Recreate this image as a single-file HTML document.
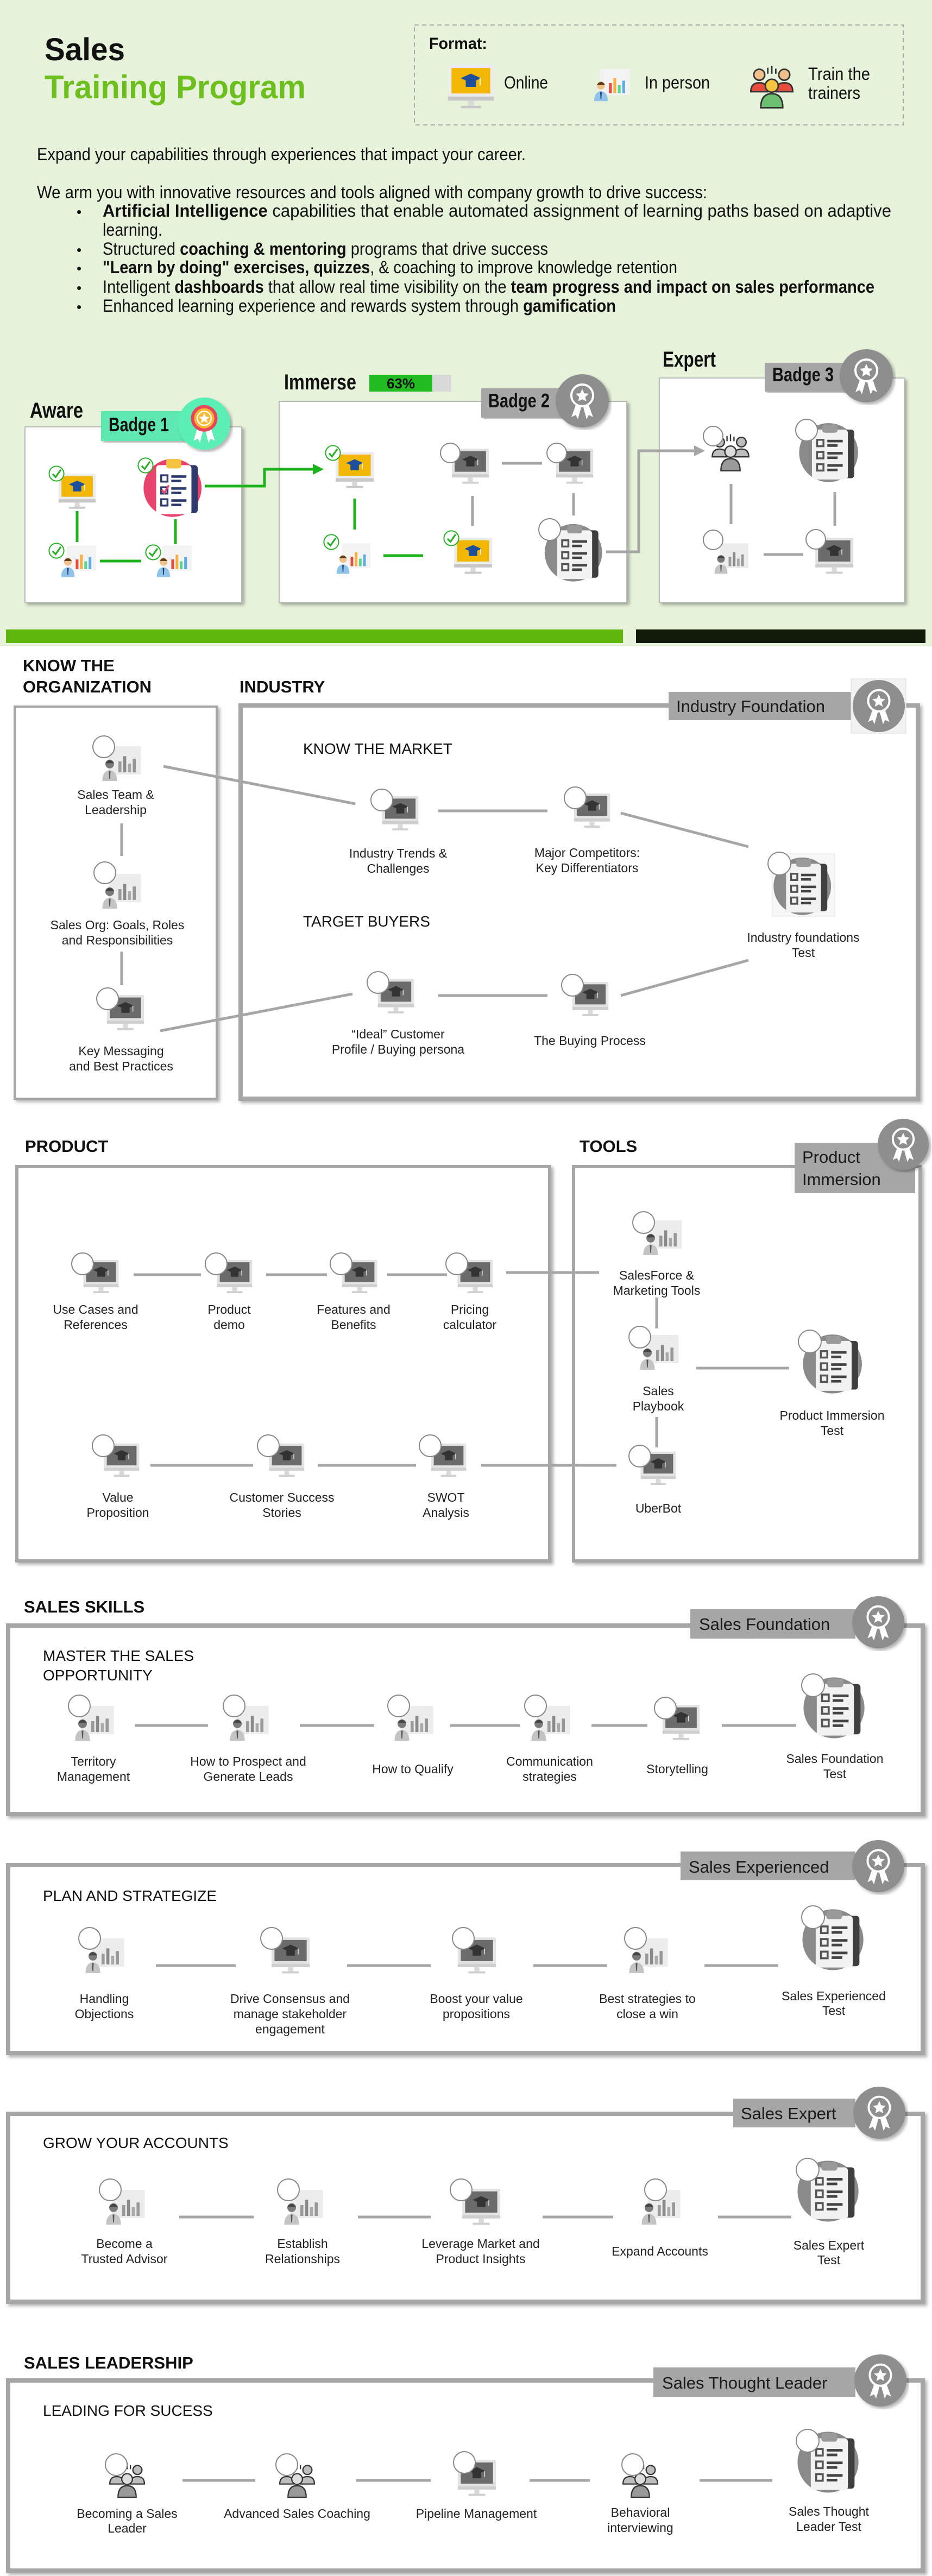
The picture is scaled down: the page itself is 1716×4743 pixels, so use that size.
<!DOCTYPE html>
<html><head><meta charset="utf-8"><style>html,body{margin:0;padding:0;background:#fff}svg{display:block}</style></head>
<body>
<svg xmlns="http://www.w3.org/2000/svg" xmlns:xlink="http://www.w3.org/1999/xlink" width="1716" height="4743" viewBox="0 0 1716 4743" font-family="Liberation Sans, sans-serif">
<defs>
<filter id="sh" x="-5%" y="-5%" width="110%" height="110%"><feDropShadow dx="4" dy="4" stdDeviation="3" flood-color="#000" flood-opacity="0.3"/></filter>
<symbol id="mon" viewBox="0 0 100 100"><rect x="5" y="8" width="90" height="62" rx="3" fill="#e3e3e3"/><rect x="12" y="14" width="76" height="50" fill="#6b6b6b"/><path d="M30 34 L50 25 L70 34 L50 43 Z" fill="#333"/><rect x="40" y="38" width="20" height="13" fill="#333"/><path d="M68 34 V48" stroke="#ddd" stroke-width="2"/><rect x="5" y="70" width="90" height="8" fill="#cfcfcf"/><rect x="44" y="78" width="12" height="10" fill="#d9d9d9"/><rect x="30" y="88" width="40" height="5" rx="2" fill="#cfcfcf"/></symbol>
<symbol id="monc" viewBox="0 0 100 100"><rect x="5" y="8" width="90" height="62" rx="3" fill="#ececec"/><rect x="12" y="14" width="76" height="50" fill="#f2b705"/><path d="M30 34 L50 25 L70 34 L50 43 Z" fill="#1e4f9a"/><rect x="40" y="38" width="20" height="13" fill="#1e4f9a"/><path d="M68 34 V48" stroke="#fff" stroke-width="2"/><rect x="5" y="70" width="90" height="8" fill="#c8c8c8"/><rect x="44" y="78" width="12" height="10" fill="#d9d9d9"/><rect x="30" y="88" width="40" height="5" rx="2" fill="#c8c8c8"/></symbol>
<symbol id="pc" viewBox="0 0 100 100"><rect x="22" y="15" width="75" height="65" fill="#ececec"/><rect x="45" y="50" width="7" height="25" fill="#9a9a9a"/><rect x="56" y="38" width="7" height="37" fill="#8a8a8a"/><rect x="67" y="55" width="7" height="20" fill="#aaa"/><rect x="78" y="44" width="7" height="31" fill="#999"/><circle cx="25" cy="56" r="10" fill="#7a7a7a"/><path d="M15 54 Q25 40 35 54 Z" fill="#444"/><path d="M8 95 Q8 72 25 70 Q42 72 42 95 Z" fill="#c4c4c4"/><path d="M23 72 L27 72 L26 90 L24 90Z" fill="#555"/></symbol>
<symbol id="pcc" viewBox="0 0 100 100"><rect x="22" y="15" width="75" height="65" fill="#f3f3f3"/><rect x="45" y="50" width="7" height="25" fill="#e74c3c"/><rect x="56" y="38" width="7" height="37" fill="#f5b041"/><rect x="67" y="55" width="7" height="20" fill="#58d68d"/><rect x="78" y="44" width="7" height="31" fill="#5dade2"/><circle cx="25" cy="56" r="10" fill="#f0c08a"/><path d="M15 54 Q25 40 35 54 Z" fill="#5a3a1a"/><path d="M8 95 Q8 72 25 70 Q42 72 42 95 Z" fill="#8fc3ea"/><path d="M23 72 L27 72 L26 90 L24 90Z" fill="#1e3a6a"/></symbol>
<symbol id="clip" viewBox="0 0 100 100"><circle cx="48" cy="52" r="46" fill="#8a8a8a"/><rect x="58" y="16" width="30" height="76" rx="5" fill="#3f3f3f"/><rect x="22" y="16" width="56" height="78" rx="5" fill="#f2f2f2"/><rect x="38" y="8" width="24" height="13" rx="4" fill="#9a9a9a"/><g fill="none" stroke="#555" stroke-width="3"><rect x="30" y="32" width="10" height="10"/><rect x="30" y="51" width="10" height="10"/><rect x="30" y="70" width="10" height="10"/></g><g stroke="#444" stroke-width="4"><path d="M46 34H70M46 41H62M46 53H70M46 60H62M46 72H70M46 79H62"/></g></symbol>
<symbol id="clipc" viewBox="0 0 100 100"><circle cx="48" cy="52" r="46" fill="#e8436c"/><rect x="58" y="16" width="30" height="76" rx="5" fill="#2e3a6e"/><rect x="22" y="16" width="56" height="78" rx="5" fill="#fff"/><rect x="38" y="6" width="24" height="15" rx="4" fill="#f5c542"/><g fill="none" stroke="#2e3a6e" stroke-width="3"><rect x="30" y="32" width="10" height="10"/><rect x="30" y="51" width="10" height="10"/><rect x="30" y="70" width="10" height="10"/></g><path d="M31 55 L35 60 L42 48" stroke="#e8436c" stroke-width="3" fill="none"/><g stroke="#2e3a6e" stroke-width="4"><path d="M46 34H70M46 41H62M46 53H70M46 60H62M46 72H70M46 79H62"/></g></symbol>
<symbol id="team" viewBox="0 0 100 100"><g stroke="#333" stroke-width="3" fill="#bdbdbd"><circle cx="25" cy="30" r="11"/><path d="M8 64 Q8 46 25 46 Q42 46 42 64Z"/><circle cx="75" cy="30" r="11"/><path d="M58 64 Q58 46 75 46 Q92 46 92 64Z"/><path d="M28 96 Q28 68 50 68 Q72 68 72 96Z" fill="#9a9a9a"/><circle cx="50" cy="52" r="13" fill="#ddd"/></g><path d="M42 16V28M50 12V28M58 18V28" stroke="#333" stroke-width="3"/></symbol>
<symbol id="teamc" viewBox="0 0 100 100"><g stroke="#333" stroke-width="3"><circle cx="25" cy="30" r="11" fill="#f0c08a"/><path d="M8 64 Q8 46 25 46 Q42 46 42 64Z" fill="#e74c3c"/><circle cx="75" cy="30" r="11" fill="#f0c08a"/><path d="M58 64 Q58 46 75 46 Q92 46 92 64Z" fill="#e74c3c"/><path d="M28 96 Q28 68 50 68 Q72 68 72 96Z" fill="#6cc070"/><circle cx="50" cy="52" r="13" fill="#f5c542"/></g><path d="M42 16V28M50 12V28M58 18V28" stroke="#333" stroke-width="3"/></symbol>
<symbol id="bdg" viewBox="0 0 100 100"><circle cx="50" cy="50" r="49" fill="#8e8e8e"/><circle cx="50" cy="40" r="20" fill="none" stroke="#fff" stroke-width="4"/><polygon points="50,28 53.5,36 62,37 55.5,43 57.5,51 50,47 42.5,51 44.5,43 38,37 46.5,36" fill="#fff"/><path d="M38 58 L30 80 L38 76 L42 84 L48 62Z M62 58 L70 80 L62 76 L58 84 L52 62Z" fill="#fff"/></symbol>
<symbol id="bdg1" viewBox="0 0 100 100"><circle cx="50" cy="50" r="49" fill="#5cefb5"/><path d="M38 56 L30 82 L38 78 L42 86 L48 62Z M62 56 L70 82 L62 78 L58 86 L52 62Z" fill="#fff"/><circle cx="50" cy="40" r="25" fill="#e8455a"/><circle cx="50" cy="40" r="19" fill="#f7b731"/><circle cx="50" cy="40" r="13" fill="none" stroke="#fff" stroke-width="2.5"/><polygon points="50,30 53,37 60,37.5 54.5,42 56.5,49 50,45 43.5,49 45.5,42 40,37.5 47,37" fill="#fff"/></symbol>
<symbol id="chk" viewBox="0 0 40 40"><circle cx="20" cy="20" r="17" fill="#fff" stroke="#2bb02b" stroke-width="2.5"/><path d="M11 21 L18 28 L30 11" fill="none" stroke="#2bb02b" stroke-width="4"/></symbol>
</defs>

<!-- TOP -->
<rect x="0" y="0" width="1716" height="1190" fill="#e7f2da"/>
<text x="82" y="111" font-size="58" font-weight="bold" fill="#111" textLength="148" lengthAdjust="spacingAndGlyphs">Sales</text>
<text x="82" y="181" font-size="60" font-weight="bold" fill="#6cbf1c" textLength="481" lengthAdjust="spacingAndGlyphs">Training Program</text>
<rect x="763" y="46" width="900" height="184" fill="none" stroke="#aaa" stroke-width="2" stroke-dasharray="8 6"/>
<text x="790" y="90" font-size="30" font-weight="bold" fill="#111" textLength="107" lengthAdjust="spacingAndGlyphs">Format:</text>
<use href="#monc" x="820" y="112" width="94" height="94"/>
<text x="928" y="163" font-size="32" fill="#111" textLength="81" lengthAdjust="spacingAndGlyphs">Online</text>
<use href="#pcc" x="1080" y="116" width="90" height="74"/>
<text x="1187" y="163" font-size="32" fill="#111" textLength="120" lengthAdjust="spacingAndGlyphs">In person</text>
<use href="#teamc" x="1374" y="110" width="94" height="92"/>
<text x="1488" y="147" font-size="32" fill="#111" textLength="114" lengthAdjust="spacingAndGlyphs">Train the</text>
<text x="1488" y="182" font-size="32" fill="#111" textLength="96" lengthAdjust="spacingAndGlyphs">trainers</text>

<g font-size="32" fill="#111">
<text x="68" y="295" textLength="900" lengthAdjust="spacingAndGlyphs">Expand your capabilities through experiences that impact your career.</text>
<text x="68" y="365" textLength="1234" lengthAdjust="spacingAndGlyphs">We arm you with innovative  resources and tools aligned with company growth to drive success:</text>
<g font-size="26"><text x="141" y="399">•</text><text x="141" y="469">•</text><text x="141" y="503">•</text><text x="141" y="539">•</text><text x="141" y="574">•</text></g>
<text x="189" y="399" textLength="1452" lengthAdjust="spacingAndGlyphs"><tspan font-weight="bold">Artificial Intelligence</tspan> capabilities that enable automated assignment of learning paths based on adaptive</text>
<text x="189" y="434" textLength="110" lengthAdjust="spacingAndGlyphs">learning.</text>
<text x="189" y="469" textLength="820" lengthAdjust="spacingAndGlyphs">Structured <tspan font-weight="bold">coaching &amp; mentoring</tspan> programs that drive success</text>
<text x="189" y="503" textLength="1058" lengthAdjust="spacingAndGlyphs"><tspan font-weight="bold">"Learn by doing" exercises, quizzes</tspan>, &amp; coaching to improve knowledge retention</text>
<text x="189" y="539" textLength="1421" lengthAdjust="spacingAndGlyphs">Intelligent <tspan font-weight="bold">dashboards</tspan> that allow real time visibility on the <tspan font-weight="bold">team progress and impact on sales performance</tspan></text>
<text x="189" y="574" textLength="945" lengthAdjust="spacingAndGlyphs">Enhanced learning experience and rewards system through <tspan font-weight="bold">gamification</tspan></text>
</g>

<!-- Journey -->
<g font-weight="bold" font-size="40" fill="#111">
<text x="55" y="769" textLength="98" lengthAdjust="spacingAndGlyphs">Aware</text>
<text x="523" y="717" textLength="133" lengthAdjust="spacingAndGlyphs">Immerse</text>
<text x="1220" y="675" textLength="98" lengthAdjust="spacingAndGlyphs">Expert</text>
</g>
<rect x="46" y="786" width="399" height="323" fill="#fff" stroke="#bbb" stroke-width="2" filter="url(#sh)"/>
<rect x="514" y="739" width="640" height="370" fill="#fff" stroke="#bbb" stroke-width="2" filter="url(#sh)"/>
<rect x="1214" y="696" width="451" height="413" fill="#fff" stroke="#bbb" stroke-width="2" filter="url(#sh)"/>
<rect x="680" y="690" width="151" height="31" fill="#d9d9d9"/><rect x="680" y="690" width="116" height="31" fill="#22bb22"/>
<text x="738" y="715" font-size="26" font-weight="bold" fill="#111" text-anchor="middle">63%</text>
<rect x="186" y="757" width="175" height="55" fill="#5ee8b0" filter="url(#sh)"/>
<text x="200" y="794" font-size="36" font-weight="bold" fill="#111" textLength="111" lengthAdjust="spacingAndGlyphs">Badge 1</text>
<use href="#bdg1" x="327" y="731" width="98" height="98" filter="url(#sh)"/>
<rect x="886" y="715" width="164" height="54" fill="#a6a6a6" filter="url(#sh)"/>
<text x="899" y="750" font-size="36" font-weight="bold" fill="#111" textLength="113" lengthAdjust="spacingAndGlyphs">Badge 2</text>
<use href="#bdg" x="1022" y="688" width="100" height="100" filter="url(#sh)"/>
<rect x="1408" y="668" width="167" height="53" fill="#a6a6a6" filter="url(#sh)"/>
<text x="1422" y="702" font-size="36" font-weight="bold" fill="#111" textLength="113" lengthAdjust="spacingAndGlyphs">Badge 3</text>
<use href="#bdg" x="1545" y="642" width="100" height="100" filter="url(#sh)"/>

<!-- aware contents -->
<g stroke="#1db31d" stroke-width="5" fill="none">
<path d="M142 941V998M323 956V1002M184 1033H260"/>
<path d="M377 895H487V864H580"/>
<path d="M653 918V975M706 1023H779"/>
</g>
<polygon points="596,864 576,854 576,874" fill="#1db31d"/>
<use href="#monc" x="104" y="866" width="76" height="76"/>
<use href="#clipc" x="262" y="838" width="116" height="116"/>
<use href="#pcc" x="104" y="994" width="78" height="72"/>
<use href="#pcc" x="280" y="994" width="78" height="72"/>
<use href="#chk" x="88" y="856" width="32" height="32"/>
<use href="#chk" x="252" y="841" width="32" height="32"/>
<use href="#chk" x="88" y="998" width="32" height="32"/>
<use href="#chk" x="266" y="1001" width="32" height="32"/>
<!-- immerse -->
<g stroke="#a6a6a6" stroke-width="5" fill="none">
<path d="M924 853H998M870 913V968M1056 908V949"/>
<path d="M1116 1016H1176V830H1282"/>
<path d="M1346 891V965M1537 906V968M1406 1021H1479"/>
</g>
<polygon points="1298,830 1278,820 1278,840" fill="#a6a6a6"/>
<use href="#monc" x="614" y="826" width="78" height="78"/>
<use href="#mon" x="828" y="820" width="76" height="76"/>
<use href="#mon" x="1020" y="820" width="76" height="76"/>
<use href="#pcc" x="610" y="990" width="78" height="70"/>
<use href="#monc" x="832" y="984" width="78" height="78"/>
<use href="#clip" x="998" y="958" width="120" height="115"/>
<use href="#chk" x="597" y="818" width="32" height="32"/>
<use href="#chk" x="594" y="982" width="32" height="32"/>
<use href="#chk" x="815" y="975" width="32" height="32"/>
<g fill="#fff" stroke="#888" stroke-width="2"><circle cx="829" cy="834" r="18"/><circle cx="1025" cy="834" r="18"/><circle cx="1012" cy="975" r="20"/></g>
<!-- expert -->
<use href="#team" x="1305" y="790" width="80" height="80"/>
<use href="#clip" x="1468" y="772" width="120" height="118"/>
<use href="#pc" x="1305" y="990" width="80" height="70"/>
<use href="#mon" x="1497" y="984" width="78" height="78"/>
<g fill="#fff" stroke="#888" stroke-width="2"><circle cx="1313" cy="803" r="18"/><circle cx="1485" cy="792" r="20"/><circle cx="1313" cy="994" r="18"/><circle cx="1502" cy="993" r="18"/></g>

<rect x="11" y="1159" width="1136" height="25" fill="#5fb70c"/>
<rect x="1171" y="1159" width="533" height="25" fill="#111a07"/>

<!-- ORG / INDUSTRY -->
<g font-weight="bold" font-size="31" fill="#111">
<text x="42" y="1236">KNOW THE</text><text x="42" y="1275">ORGANIZATION</text>
<text x="441" y="1275">INDUSTRY</text>
<text x="46" y="2121">PRODUCT</text><text x="1067" y="2121">TOOLS</text>
<text x="44" y="2969">SALES SKILLS</text>
<text x="44" y="4361">SALES LEADERSHIP</text>
</g>
<rect x="27" y="1301" width="372" height="722" fill="#fff" stroke="#a6a6a6" stroke-width="4" filter="url(#sh)"/>
<rect x="443" y="1299" width="1247" height="724" fill="#fff" stroke="#a6a6a6" stroke-width="8" filter="url(#sh)"/>
<rect x="1231" y="1274" width="336" height="52" fill="#a6a6a6"/>
<text x="1245" y="1311" font-size="31" fill="#1a1a1a">Industry Foundation</text>
<rect x="1567" y="1250" width="101" height="100" fill="#f2f2f2" stroke="#ddd"/>
<use href="#bdg" x="1569" y="1251" width="98" height="98"/>

<g stroke="#a6a6a6" stroke-width="5" fill="none">
<path d="M224 1516V1576M224 1752V1814"/>
<path d="M301 1411L654 1480M295 1898L649 1830"/>
<path d="M807 1493H1008M1143 1497L1378 1559"/>
<path d="M807 1833H1008M1143 1833L1378 1768"/>
</g>
<use href="#pc" x="180" y="1362" width="84" height="80"/>
<use href="#pc" x="180" y="1597" width="84" height="80"/>
<use href="#mon" x="193" y="1826" width="76" height="76"/>
<use href="#mon" x="700" y="1460" width="74" height="74"/>
<use href="#mon" x="1053" y="1455" width="74" height="74"/>
<rect x="1422" y="1572" width="115" height="115" fill="#f7f7f7" stroke="#e5e5e5"/>
<use href="#clip" x="1422" y="1572" width="115" height="115"/>
<use href="#mon" x="692" y="1797" width="74" height="74"/>
<use href="#mon" x="1050" y="1802" width="74" height="74"/>
<g fill="#fff" stroke="#888" stroke-width="2">
<circle cx="191" cy="1375" r="20"/><circle cx="193" cy="1607" r="20"/><circle cx="198" cy="1839" r="20"/>
<circle cx="703" cy="1473" r="20"/><circle cx="1059" cy="1469" r="20"/><circle cx="1435" cy="1590" r="21"/>
<circle cx="696" cy="1809" r="20"/><circle cx="1054" cy="1814" r="20"/>
</g>
<g font-size="23" fill="#222" text-anchor="middle">
<text x="213" y="1471">Sales Team &amp;</text><text x="213" y="1499">Leadership</text>
<text x="216" y="1711">Sales Org: Goals, Roles</text><text x="216" y="1739">and Responsibilities</text>
<text x="223" y="1943">Key Messaging</text><text x="223" y="1971">and Best Practices</text>
<text x="733" y="1579">Industry Trends &amp;</text><text x="733" y="1607">Challenges</text>
<text x="1081" y="1578">Major Competitors:</text><text x="1081" y="1606">Key Differentiators</text>
<text x="1479" y="1734">Industry foundations</text><text x="1479" y="1762">Test</text>
<text x="733" y="1912">“Ideal” Customer</text><text x="733" y="1940">Profile / Buying persona</text>
<text x="1086" y="1924">The Buying Process</text>
</g>
<g font-size="28" fill="#111">
<text x="558" y="1388">KNOW THE MARKET</text>
<text x="558" y="1706">TARGET BUYERS</text>
<text x="82" y="2229">KNOW YOUR PRODUCT</text>
<text x="82" y="2552">EMBRACE  YOUR</text><text x="82" y="2588">PRODUCT</text>
</g>

<!-- PRODUCT / TOOLS -->
<rect x="31" y="2148" width="981" height="726" fill="#fff" stroke="#a6a6a6" stroke-width="6" filter="url(#sh)"/>
<rect x="1056" y="2148" width="638" height="726" fill="#fff" stroke="#a6a6a6" stroke-width="6" filter="url(#sh)"/>
<rect x="1463" y="2104" width="222" height="93" fill="#a6a6a6"/>
<text x="1477" y="2141" font-size="31" fill="#1a1a1a">Product</text>
<text x="1477" y="2182" font-size="31" fill="#1a1a1a">Immersion</text>
<use href="#bdg" x="1615" y="2059" width="96" height="96" filter="url(#sh)"/>
<g stroke="#a6a6a6" stroke-width="5" fill="none">
<path d="M246 2347H370M490 2347H602M712 2347H823M932 2343H1103"/>
<path d="M277 2698H466M585 2698H766M886 2698H1135"/>
<path d="M1209 2389V2446M1209 2609V2665M1282 2519H1453"/>
</g>
<g>
<use href="#mon" x="150" y="2314" width="72" height="72"/><use href="#mon" x="396" y="2314" width="72" height="72"/>
<use href="#mon" x="626" y="2314" width="72" height="72"/><use href="#mon" x="839" y="2314" width="72" height="72"/>
<use href="#mon" x="188" y="2652" width="72" height="72"/><use href="#mon" x="492" y="2652" width="72" height="72"/>
<use href="#mon" x="790" y="2652" width="72" height="72"/>
<use href="#pc" x="1176" y="2235" width="84" height="80"/>
<use href="#pc" x="1170" y="2446" width="84" height="80"/>
<use href="#mon" x="1176" y="2667" width="72" height="72"/>
<use href="#clip" x="1476" y="2450" width="118" height="118"/>
</g>
<g fill="#fff" stroke="#888" stroke-width="2">
<circle cx="152" cy="2327" r="20"/><circle cx="398" cy="2327" r="20"/><circle cx="628" cy="2327" r="20"/><circle cx="841" cy="2327" r="20"/>
<circle cx="190" cy="2662" r="20"/><circle cx="494" cy="2662" r="20"/><circle cx="792" cy="2662" r="20"/>
<circle cx="1185" cy="2251" r="20"/><circle cx="1178" cy="2462" r="20"/><circle cx="1178" cy="2681" r="20"/><circle cx="1491" cy="2470" r="21"/>
</g>
<g font-size="23" fill="#222" text-anchor="middle">
<text x="176" y="2419">Use Cases and</text><text x="176" y="2447">References</text>
<text x="422" y="2419">Product</text><text x="422" y="2447">demo</text>
<text x="651" y="2419">Features and</text><text x="651" y="2447">Benefits</text>
<text x="865" y="2419">Pricing</text><text x="865" y="2447">calculator</text>
<text x="217" y="2765">Value</text><text x="217" y="2793">Proposition</text>
<text x="519" y="2765">Customer Success</text><text x="519" y="2793">Stories</text>
<text x="821" y="2765">SWOT</text><text x="821" y="2793">Analysis</text>
<text x="1209" y="2356">SalesForce &amp;</text><text x="1209" y="2384">Marketing Tools</text>
<text x="1212" y="2569">Sales</text><text x="1212" y="2597">Playbook</text>
<text x="1212" y="2785">UberBot</text>
<text x="1532" y="2614">Product Immersion</text><text x="1532" y="2642">Test</text>
</g>

<!-- SALES SKILLS boxes -->
<g fill="#fff" stroke="#a6a6a6" stroke-width="8" filter="url(#sh)">
<rect x="15" y="2993" width="1684" height="347"/>
<rect x="15" y="3434" width="1684" height="346"/>
<rect x="15" y="3892" width="1684" height="346"/>
<rect x="15" y="4383" width="1684" height="350"/>
</g>
<g fill="#a6a6a6">
<rect x="1271" y="2963" width="304" height="54"/>
<rect x="1253" y="3409" width="322" height="53"/>
<rect x="1350" y="3864" width="225" height="53"/>
<rect x="1203" y="4359" width="372" height="54"/>
</g>
<g font-size="31" fill="#1a1a1a">
<text x="1287" y="3001">Sales Foundation</text>
<text x="1268" y="3448">Sales Experienced</text>
<text x="1364" y="3902">Sales Expert</text>
<text x="1219" y="4398">Sales Thought Leader</text>
</g>
<use href="#bdg" x="1568" y="2938" width="98" height="98" filter="url(#sh)"/>
<use href="#bdg" x="1568" y="3387" width="98" height="98" filter="url(#sh)"/>
<use href="#bdg" x="1570" y="3841" width="98" height="98" filter="url(#sh)"/>
<use href="#bdg" x="1572" y="4334" width="98" height="98" filter="url(#sh)"/>
<g font-size="28" fill="#111">
<text x="79" y="3058">MASTER THE SALES</text><text x="79" y="3094">OPPORTUNITY</text>
<text x="79" y="3500">PLAN AND STRATEGIZE</text>
<text x="79" y="3955">GROW YOUR ACCOUNTS</text>
<text x="79" y="4448">LEADING FOR SUCESS</text>
</g>
<g stroke="#a6a6a6" stroke-width="5" fill="none">
<path d="M248 3177H383M552 3177H689M829 3177H957M1089 3177H1192M1329 3177H1466"/>
<path d="M287 3619H434M639 3619H793M982 3619H1118M1297 3619H1433"/>
<path d="M330 4082H467M659 4082H793M999 4082H1129M1322 4082H1457"/>
<path d="M336 4567H470M656 4567H793M975 4567H1086M1288 4567H1422"/>
</g>
<!-- row 1 cy 3171 -->
<use href="#pc" x="128" y="3129" width="88" height="80"/>
<use href="#pc" x="413" y="3129" width="88" height="80"/>
<use href="#pc" x="716" y="3129" width="88" height="80"/>
<use href="#pc" x="968" y="3129" width="88" height="80"/>
<use href="#mon" x="1216" y="3133" width="76" height="76"/>
<use href="#clip" x="1477" y="3081" width="122" height="122"/>
<!-- row 2 cy 3599 -->
<use href="#pc" x="147" y="3557" width="88" height="80"/>
<use href="#mon" x="496" y="3561" width="78" height="78"/>
<use href="#mon" x="839" y="3561" width="78" height="78"/>
<use href="#pc" x="1148" y="3557" width="88" height="80"/>
<use href="#clip" x="1475" y="3508" width="122" height="122"/>
<!-- row 3 cy 4062 -->
<use href="#pc" x="185" y="4020" width="88" height="80"/>
<use href="#pc" x="513" y="4020" width="88" height="80"/>
<use href="#mon" x="847" y="4024" width="78" height="78"/>
<use href="#pc" x="1171" y="4020" width="88" height="80"/>
<use href="#clip" x="1466" y="3971" width="122" height="122"/>
<!-- row 4 cy 4561 -->
<use href="#team" x="196" y="4525" width="76" height="76"/>
<use href="#team" x="509" y="4525" width="76" height="76"/>
<use href="#mon" x="839" y="4523" width="78" height="78"/>
<use href="#team" x="1141" y="4525" width="76" height="76"/>
<use href="#clip" x="1466" y="4470" width="122" height="122"/>
<g fill="#fff" stroke="#888" stroke-width="2">
<circle cx="146" cy="3141" r="20"/><circle cx="431" cy="3141" r="20"/><circle cx="734" cy="3141" r="20"/><circle cx="986" cy="3141" r="20"/><circle cx="1225" cy="3145" r="20"/><circle cx="1497" cy="3103" r="21"/>
<circle cx="165" cy="3569" r="20"/><circle cx="500" cy="3569" r="20"/><circle cx="853" cy="3569" r="20"/><circle cx="1170" cy="3569" r="20"/><circle cx="1497" cy="3530" r="21"/>
<circle cx="203" cy="4032" r="20"/><circle cx="531" cy="4032" r="20"/><circle cx="849" cy="4032" r="20"/><circle cx="1207" cy="4032" r="20"/><circle cx="1487" cy="3995" r="21"/>
<circle cx="214" cy="4538" r="20"/><circle cx="528" cy="4538" r="20"/><circle cx="855" cy="4534" r="20"/><circle cx="1165" cy="4538" r="20"/><circle cx="1487" cy="4494" r="21"/>
</g>
<g font-size="23" fill="#222" text-anchor="middle">
<text x="172" y="3251">Territory</text><text x="172" y="3279">Management</text>
<text x="457" y="3251">How to Prospect and</text><text x="457" y="3279">Generate Leads</text>
<text x="760" y="3265">How to Qualify</text>
<text x="1012" y="3251">Communication</text><text x="1012" y="3279">strategies</text>
<text x="1247" y="3265">Storytelling</text>
<text x="1537" y="3246">Sales Foundation</text><text x="1537" y="3274">Test</text>

<text x="192" y="3688">Handling</text><text x="192" y="3716">Objections</text>
<text x="534" y="3688">Drive Consensus and</text><text x="534" y="3716">manage stakeholder</text><text x="534" y="3744">engagement</text>
<text x="877" y="3688">Boost your value</text><text x="877" y="3716">propositions</text>
<text x="1192" y="3688">Best strategies to</text><text x="1192" y="3716">close a win</text>
<text x="1535" y="3683">Sales Experienced</text><text x="1535" y="3710">Test</text>

<text x="229" y="4139">Become a</text><text x="229" y="4167">Trusted Advisor</text>
<text x="557" y="4139">Establish</text><text x="557" y="4167">Relationships</text>
<text x="885" y="4139">Leverage Market and</text><text x="885" y="4167">Product Insights</text>
<text x="1215" y="4153">Expand Accounts</text>
<text x="1526" y="4142">Sales Expert</text><text x="1526" y="4169">Test</text>

<text x="234" y="4636">Becoming a Sales</text><text x="234" y="4663">Leader</text>
<text x="547" y="4636">Advanced Sales Coaching</text>
<text x="877" y="4636">Pipeline Management</text>
<text x="1179" y="4634">Behavioral</text><text x="1179" y="4662">interviewing</text>
<text x="1526" y="4632">Sales Thought</text><text x="1526" y="4660">Leader Test</text>
</g>
</svg>
</body></html>
